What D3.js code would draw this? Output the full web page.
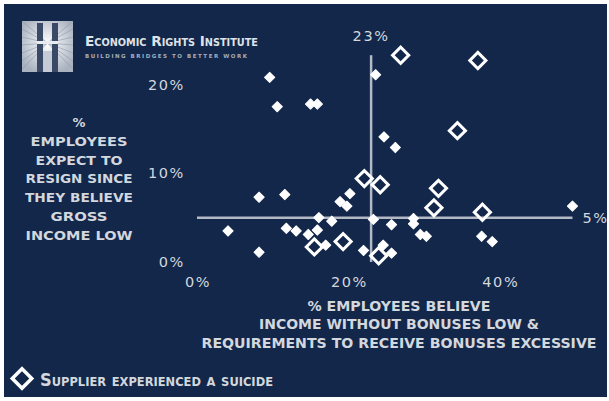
<!DOCTYPE html>
<html><head><meta charset="utf-8">
<script src="https://cdn.jsdelivr.net/npm/d3@7"></script>
<style>html,body{margin:0;padding:0;background:#fff;} svg{display:block}</style>
</head><body><svg id="c" width="609" height="401"></svg>
<script>
// ---- data ----
const filledX = [9.6, 23.6, 10.6, 15.0, 15.9, 24.7, 26.2, 8.2, 11.6, 20.2, 18.9, 19.8, 16.1, 17.8, 23.3, 25.7, 4.1, 11.8, 13.1, 14.7, 15.9, 17.0, 8.2, 22.0, 24.6, 25.7, 28.6, 28.6, 29.5, 30.3, 37.6, 39.0, 49.6];
const filledY = [20.8, 21.1, 17.5, 17.8, 17.8, 14.1, 12.9, 7.3, 7.6, 7.7, 6.8, 6.3, 5.0, 4.6, 4.8, 4.2, 3.5, 3.8, 3.5, 3.1, 3.6, 1.9, 1.1, 1.3, 1.9, 1.0, 4.9, 4.3, 3.1, 2.9, 2.9, 2.3, 6.3];
const suicideX = [26.9, 37.1, 34.4, 22.1, 24.2, 31.9, 31.3, 37.7, 15.5, 19.3, 24.0];
const suicideY = [23.3, 22.7, 14.8, 9.4, 8.7, 8.3, 6.1, 5.6, 1.7, 2.3, 0.7];
const xTicks = [0, 20, 40];
const yTicks = [0, 10, 20];
const refX = 23, refY = 5;
const refXLabel = "23%", refYLabel = "5%";
const xTitle = ["% EMPLOYEES BELIEVE", "INCOME WITHOUT BONUSES LOW &", "REQUIREMENTS TO RECEIVE BONUSES EXCESSIVE"];
const xTitleWidths = [183, 280, 395];
const yTitle = ["%", "EMPLOYEES", "EXPECT TO", "RESIGN SINCE", "THEY BELIEVE", "GROSS", "INCOME LOW"];
const yTitleWidths = [13, 97, 87, 107, 108, 57, 107];
const legendLabel = "Supplier experienced a suicide";
const orgName = "Economic Rights Institute";
const orgTagline = "BUILDING BRIDGES TO BETTER WORK";

// ---- drawing ----
const svg = d3.select("#c");
const NAVY = "#12274a", TXT = "#d3d7de", LINE = "#b3bac6";
const FONT = "'DejaVu Sans', sans-serif";

svg.append("rect").attr("x", 0).attr("y", 0).attr("width", 609).attr("height", 401).attr("fill", "#ffffff");
svg.append("rect").attr("x", 4).attr("y", 4).attr("width", 603).attr("height", 393).attr("fill", NAVY);

const x = d3.scaleLinear().domain([0, 40]).range([197, 499.8]);
const y = d3.scaleLinear().domain([0, 20]).range([262, 84.5]);

// logo
const logo = svg.append("g").attr("transform", "translate(22,21)");
const grad = svg.append("defs").append("radialGradient").attr("id", "lg").attr("cx", "50%").attr("cy", "45%").attr("r", "60%");
grad.append("stop").attr("offset", "0%").attr("stop-color", "#ffffff");
grad.append("stop").attr("offset", "100%").attr("stop-color", "#aab2c0");
logo.append("rect").attr("width", 51).attr("height", 51).attr("fill", "url(#lg)");
logo.selectAll("line.ray").data(d3.range(14)).join("line")
  .attr("x1", 25.5).attr("y1", 22).attr("x2", d => d < 7 ? 0 : 51).attr("y2", d => (d % 7) * 8)
  .attr("stroke", "#8e98aa").attr("stroke-width", 0.6);
logo.append("rect").attr("x", 15).attr("y", 2).attr("width", 6).attr("height", 49).attr("fill", "#3a4a66");
logo.append("rect").attr("x", 30).attr("y", 2).attr("width", 6).attr("height", 49).attr("fill", "#3a4a66");
logo.append("rect").attr("x", 15).attr("y", 20).attr("width", 21).attr("height", 3).attr("fill", "#e8ebf0");
logo.append("rect").attr("x", 21).attr("y", 30).attr("width", 9).attr("height", 21).attr("fill", "#c5ccd6");

svg.append("text").attr("x", 85).attr("y", 46).attr("font-family", FONT).attr("font-size", 14)
  .attr("font-weight", "bold").style("font-variant", "small-caps").attr("fill", "#dfe2e8")
  .attr("textLength", 173).attr("lengthAdjust", "spacingAndGlyphs").text(orgName);
svg.append("text").attr("x", 85).attr("y", 57.5).attr("font-family", FONT).attr("font-size", 5.5)
  .attr("font-weight", "bold").attr("fill", "#a6aebc")
  .attr("textLength", 162).attr("lengthAdjust", "spacing").text(orgTagline);

// y tick labels
svg.selectAll("text.yt").data(yTicks).join("text").attr("class", "yt")
  .attr("x", 185).attr("y", d => y(d)).attr("dy", "0.36em").attr("text-anchor", "end")
  .attr("font-family", FONT).attr("font-size", 14.5).attr("fill", TXT).attr("letter-spacing", 1.6)
  .text(d => d + "%");
// x tick labels
svg.selectAll("text.xt").data(xTicks).join("text").attr("class", "xt")
  .attr("x", d => x(d) + 1).attr("y", 287).attr("text-anchor", "middle")
  .attr("font-family", FONT).attr("font-size", 14.5).attr("fill", TXT).attr("letter-spacing", 1.6)
  .text(d => d + "%");

// reference lines
const maxX = d3.max(filledX.concat(suicideX));
const maxY = d3.max(filledY.concat(suicideY));
svg.append("line").attr("x1", x(0)).attr("x2", x(maxX)).attr("y1", y(refY)).attr("y2", y(refY))
  .attr("stroke", LINE).attr("stroke-width", 2.5);
svg.append("line").attr("x1", x(refX)).attr("x2", x(refX)).attr("y1", y(0)).attr("y2", y(maxY))
  .attr("stroke", LINE).attr("stroke-width", 2.5);
svg.append("text").attr("x", x(refX)).attr("y", 41).attr("text-anchor", "middle")
  .attr("font-family", FONT).attr("font-size", 14.5).attr("fill", TXT).attr("letter-spacing", 1.6).text(refXLabel);
svg.append("text").attr("x", x(maxX) + 10).attr("y", y(refY)).attr("dy", "0.36em")
  .attr("font-family", FONT).attr("font-size", 14.5).attr("fill", TXT).attr("letter-spacing", 1.6).text(refYLabel);

// points
const filled = filledX.map((v, i) => ({x: v, y: filledY[i]}));
const hollow = suicideX.map((v, i) => ({x: v, y: suicideY[i]}));
const smallSym = d3.symbol().type(d3.symbolSquare).size(52);
const bigSym = d3.symbol().type(d3.symbolSquare).size(130);
svg.selectAll("path.f").data(filled).join("path").attr("class", "f")
  .attr("d", smallSym).attr("transform", d => `translate(${x(d.x)},${y(d.y)}) rotate(45)`)
  .attr("fill", "#ffffff").attr("stroke", "#ffffff").attr("stroke-width", 1).attr("stroke-linejoin", "round");
svg.selectAll("path.h").data(hollow).join("path").attr("class", "h")
  .attr("d", bigSym).attr("transform", d => `translate(${x(d.x)},${y(d.y)}) rotate(45)`)
  .attr("fill", "none").attr("stroke", "#ffffff").attr("stroke-width", 3);

// y title
svg.selectAll("text.ytl").data(yTitle).join("text").attr("class", "ytl")
  .attr("x", 79).attr("y", (d, i) => 127 + i * 18.8).attr("text-anchor", "middle")
  .attr("font-family", FONT).attr("font-size", 11.5).attr("font-weight", "bold").attr("fill", TXT)
  .attr("textLength", (d, i) => yTitleWidths[i]).attr("lengthAdjust", "spacingAndGlyphs").text(d => d);
// x title
svg.selectAll("text.xtl").data(xTitle).join("text").attr("class", "xtl")
  .attr("x", 399).attr("y", (d, i) => 311 + i * 18.3).attr("text-anchor", "middle")
  .attr("font-family", FONT).attr("font-size", 13.5).attr("font-weight", "bold").attr("fill", TXT)
  .attr("textLength", (d, i) => xTitleWidths[i]).attr("lengthAdjust", "spacingAndGlyphs").text(d => d);

// legend
svg.append("path").attr("d", d3.symbol().type(d3.symbolSquare).size(190))
  .attr("transform", "translate(22,378.5) rotate(45)")
  .attr("fill", "none").attr("stroke", "#ffffff").attr("stroke-width", 3.5);
svg.append("text").attr("x", 40).attr("y", 386).attr("font-family", FONT).attr("font-size", 17)
  .attr("font-weight", "bold").style("font-variant", "small-caps").attr("fill", TXT)
  .attr("textLength", 233).attr("lengthAdjust", "spacingAndGlyphs").text(legendLabel);
</script></body></html>
